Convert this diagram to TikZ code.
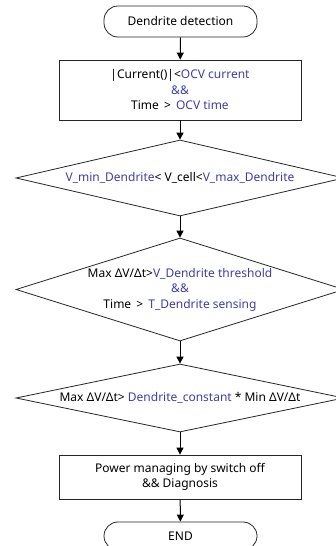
\documentclass[tikz,border=0pt]{standalone}
\usepackage{fontspec}
\setmainfont{Noto Sans}
\usetikzlibrary{shapes.geometric,arrows.meta}
\definecolor{blu}{RGB}{62,62,165}
\begin{document}
\begin{tikzpicture}[x=1pt,y=1pt,
  font=\fontsize{12}{15.5}\selectfont,
  box/.style={draw=black!85,line width=0.8pt,rectangle,minimum width=242pt,align=center,inner sep=0pt},
  term/.style={draw=black!85,line width=0.8pt,rounded corners=14pt,minimum width=153pt,align=center,inner sep=0pt},
  dia/.style={draw=black!85,line width=0.8pt,diamond,minimum width=328pt,inner sep=0pt},
  txt/.style={align=center,inner sep=0pt},
  arr/.style={-{Triangle[length=7pt,width=7pt]},line width=1pt}]
\useasboundingbox (0,0) rectangle (336,546);
\node[term,minimum height=31pt] (start) at (180.5,524.5) {Dendrite detection};
\node[box,minimum height=60pt] (b1) at (180,456) {|Current()|<\textcolor{blu}{OCV current}\\\textcolor{blu}{\&\&}\\Time \,>\, \textcolor{blu}{OCV time}};
\node[dia,minimum height=76pt] (d1) at (180,368) {};
\node[txt] (t1) at (d1.center) {\textcolor{blu}{V\_min\_Dendrite}< V\_cell<\textcolor{blu}{V\_max\_Dendrite}};
\node[dia,minimum height=103pt] (d2) at (180,256.5) {};
\node[txt] (t2) at (d2.center) {Max ΔV/Δt>\textcolor{blu}{V\_Dendrite threshold}\\\textcolor{blu}{\&\&}\\Time \,>\, \textcolor{blu}{T\_Dendrite sensing}};
\node[dia,minimum height=68pt] (d3) at (180,148) {};
\node[txt] (t3) at (d3.center) {Max ΔV/Δt> \textcolor{blu}{Dendrite\_constant} * Min ΔV/Δt};
\node[box,minimum height=44pt] (b2) at (180,69) {Power managing by switch off\\\&\& Diagnosis};
\node[term,minimum height=28pt] (end) at (180.5,10) {END};
\draw[arr] (start) -- (b1);
\draw[arr] (b1) -- (d1.north);
\draw[arr] (d1.south) -- (d2.north);
\draw[arr] (d2.south) -- (d3.north);
\draw[arr] (d3.south) -- (b2);
\draw[arr] (b2) -- (end);
\end{tikzpicture}
\end{document}
